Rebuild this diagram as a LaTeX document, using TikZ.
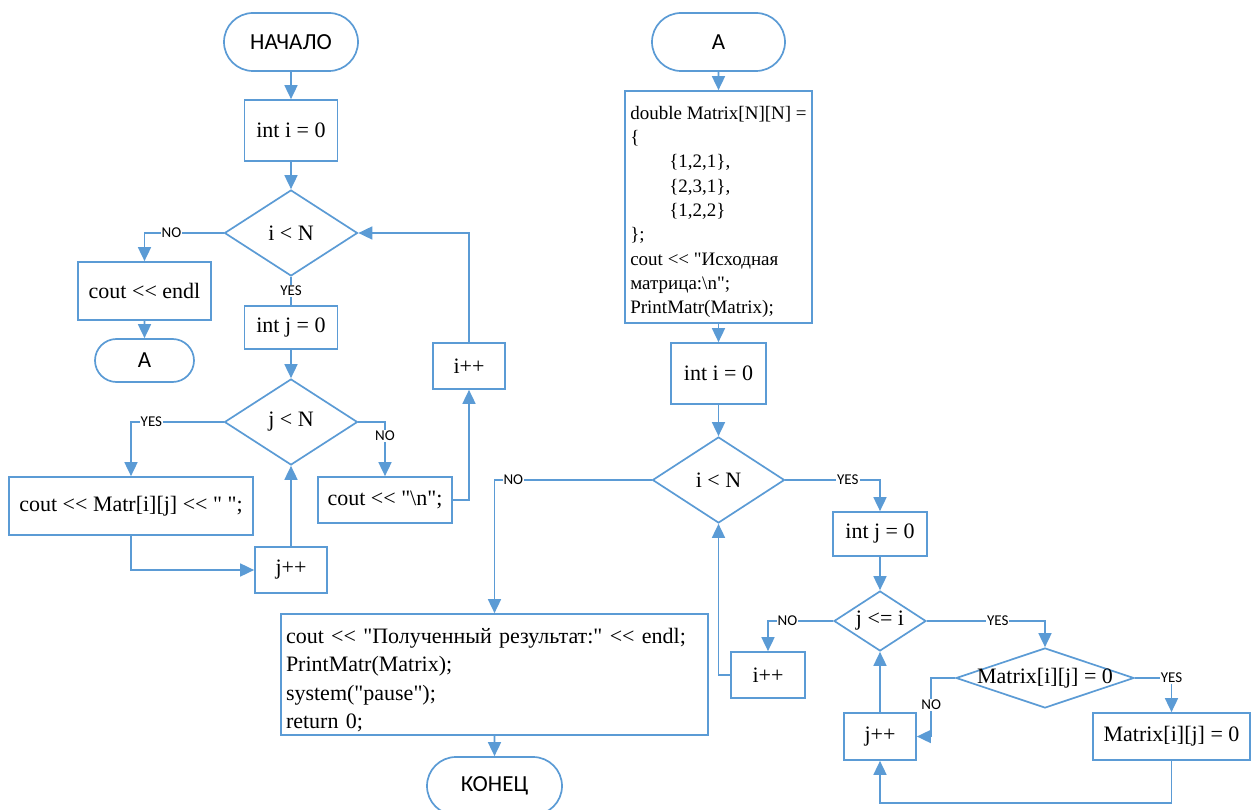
\documentclass[tikz,border=0pt]{standalone}
\usepackage{fontspec}
\newfontfamily\codefont{Liberation Serif}
\newfontfamily\termfont{Carlito}
\usetikzlibrary{arrows.meta,shapes.geometric,shapes.misc}
\definecolor{flowblue}{RGB}{91,155,213}

\begin{document}
\begin{tikzpicture}[x=1pt,y=-1pt,
  every node/.style={inner sep=0pt},
  base/.style={draw=flowblue, line width=1.7pt, fill=white},
  proc/.style={base, rectangle, font=\codefont\fontsize{22}{26}\selectfont},
  term/.style={base, rounded rectangle, font=\termfont\fontsize{23}{27}\selectfont},
  dec/.style={base, diamond},
  dectext/.style={font=\codefont\fontsize{22}{26}\selectfont},
  lab/.style={fill=white, inner sep=1pt, font=\termfont\fontsize{15}{17}\selectfont},
  flow/.style={draw=flowblue, line width=1.7pt, -{Triangle[length=14pt,width=13pt]}},
  link/.style={draw=flowblue, line width=1.7pt},
]
\useasboundingbox (0,0) rectangle (1259,810);
\clip (0,0) rectangle (1259,810);

% ---------- left chart: printing the matrix ----------
\node[term, minimum width=134, minimum height=58] (start) at (291,42) {НАЧАЛО};
\node[proc, minimum width=93, minimum height=61] (i0) at (291,130.5) {int i = 0};
\node[dec, minimum width=133, minimum height=86] (d1) at (291,233) {};
\node[dectext] (d1t) at (d1) {i < N};
\node[proc, minimum width=133, minimum height=58] (endl) at (144.5,291) {cout << endl};
\node[term, minimum width=99, minimum height=43] (A1) at (144.5,360.5) {А};
\node[proc, minimum width=93, minimum height=43] (j0) at (291,327.5) {int j = 0};
\node[dec, minimum width=133, minimum height=86] (d2) at (291,422) {};
\node[dectext] (d2t) at (d2) {j < N};
\node[proc, minimum width=244, minimum height=58] (mat) at (131,506) {cout << Matr[i][j] << " ";};
\node[proc, minimum width=72, minimum height=46] (jpp) at (291,570) {j++};
\node[proc, minimum width=134, minimum height=46] (nl) at (385,500) {cout << "\textbackslash n";};
\node[proc, minimum width=72, minimum height=46] (ipp) at (469,366) {i++};

\draw[flow] (start) -- (i0);
\draw[flow] (i0) -- (d1);
\draw[flow] (d1.west) -| node[lab, pos=0.33] {NO} (endl.north);
\draw[flow] (endl) -- (A1);
\draw[link] (d1.south) -- node[lab] {YES} (j0.north);
\draw[flow] (j0) -- (d2);
\draw[flow] (d2.west) -| node[lab, pos=0.39] {YES} (mat.north);
\draw[flow] (mat.south) |- (jpp.west);
\draw[flow] (jpp.north) -- (d2.south);
\draw[flow] (d2.east) -| node[lab, pos=0.63] {NO} (nl.north);
\draw[flow] (nl.east) -| (ipp.south);
\draw[flow] (ipp.north) |- (d1.east);

% ---------- right chart: zeroing the lower triangle ----------
\node[term, minimum width=133, minimum height=58] (A2) at (718.5,42) {А};
\node[proc, minimum width=187, minimum height=232, align=left,
      font=\codefont\fontsize{19}{24.3}\selectfont] (init) at (718.5,207) {%
\rule{0pt}{23pt}double Matrix[N][N] =\\
\{\\
\hspace*{39pt}\{1,2,1\},\\
\hspace*{39pt}\{2,3,1\},\\
\hspace*{39pt}\{1,2,2\}\\
\};\\
cout << "Исходная\\
матрица:\textbackslash n";\\
PrintMatr(Matrix);};
\node[proc, minimum width=95, minimum height=61] (i0b) at (718.5,373.5) {int i = 0};
\node[dec, minimum width=132, minimum height=86] (d3) at (718.5,480) {};
\node[dectext] (d3t) at (d3) {i < N};
\node[proc, minimum width=427, minimum height=121, text width=417, align=left,
      font=\codefont\fontsize{22}{28.5}\selectfont] (fin) at (494.5,674.5) {%
\rule{0pt}{26pt}cout << "Полученный результат:" << endl;\\
PrintMatr(Matrix);\\
system("pause");\\
return 0;};
\node[term, minimum width=135, minimum height=58] (stop) at (494.5,786) {КОНЕЦ};
\node[proc, minimum width=94, minimum height=44] (j0b) at (880,534) {int j = 0};
\node[dec, minimum width=92, minimum height=60] (d4) at (880,621) {};
\node[dectext] (d4t) at (d4) {j <= i};
\node[proc, minimum width=74, minimum height=46] (ipp2) at (768,675) {i++};
\node[dec, minimum width=178, minimum height=60] (d5) at (1045,678) {};
\node[dectext] (d5t) at (d5) {Matrix[i][j] = 0};
\node[proc, minimum width=157, minimum height=47] (mset) at (1171.5,736.5) {Matrix[i][j] = 0};
\node[proc, minimum width=72, minimum height=47] (jpp2) at (880,736.5) {j++};

\draw[flow] (A2) -- (init);
\draw[flow] (init) -- (i0b);
\draw[flow] (i0b) -- (d3);
\draw[flow] (d3.west) -| node[lab, pos=0.44] {NO} (fin.north);
\draw[flow] (fin) -- (stop);
\draw[flow] (d3.east) -| node[lab, pos=0.33] {YES} (j0b.north);
\draw[flow] (j0b) -- (d4);
\draw[flow] (d4.west) -| node[lab, pos=0.35] {NO} (ipp2.north);
\draw[flow] (ipp2.west) -| (d3.south);
\draw[flow] (d4.east) -| node[lab, pos=0.3] {YES} (d5.north);
\draw[flow] (d5.east) -| node[lab] {YES} (mset.north);
\draw[flow] (d5.west) -- ++(-24,0) |- node[lab, pos=0.23] {NO} (jpp2.east);
\draw[flow] (mset.south) -- ++(0,42) -| (jpp2.south);
\draw[flow] (jpp2.north) -- (d4.south);
\end{tikzpicture}
\end{document}
